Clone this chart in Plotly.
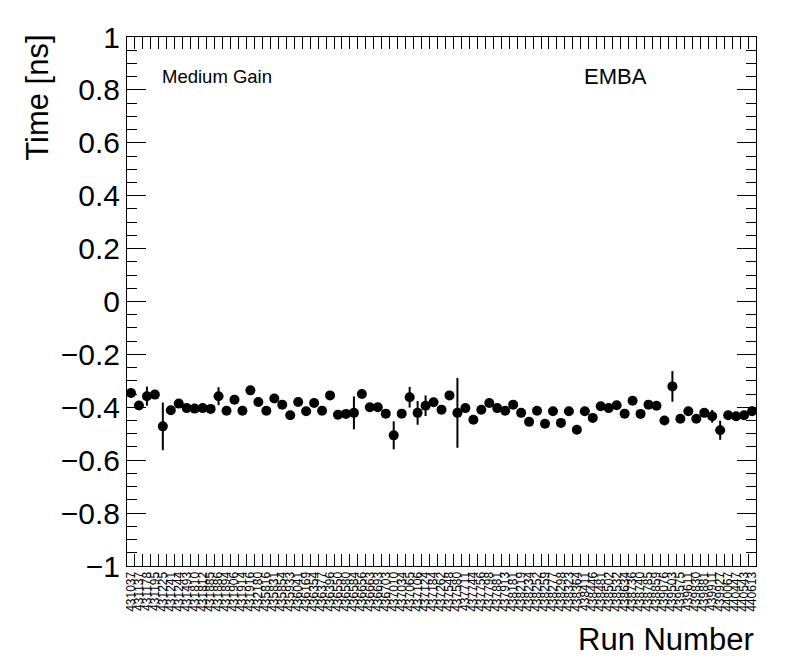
import plotly.graph_objects as go

runs = ["431037","431137","431178","431195","431225","431241","431244","431493","431810","431812",
        "431885","431886","431894","431906","431914","431916","432180","435816","435831","435854",
        "435933","436041","436169","436354","436377","436396","436550","436580","436584","436656",
        "436663","436693","436703","437010","437034","437065","437106","437124","437184","437262",
        "437548","437580","437711","437744","437756","437798","437881","437913","438181","438219",
        "438234","438252","438259","438277","438298","438323","438364","438411","438446","438481",
        "438502","438532","438634","438736","438740","438785","438859","439076","439503","439575",
        "439611","439830","439881","439911","439927","440067","440447","440543","440613"]

time_ns = [-0.346,-0.393,-0.358,-0.352,-0.472,-0.411,-0.386,-0.403,-0.405,-0.403,
           -0.406,-0.358,-0.413,-0.371,-0.413,-0.336,-0.380,-0.413,-0.367,-0.390,
           -0.430,-0.380,-0.415,-0.384,-0.413,-0.355,-0.428,-0.425,-0.421,-0.350,
           -0.400,-0.400,-0.424,-0.506,-0.424,-0.362,-0.421,-0.394,-0.381,-0.409,
           -0.355,-0.421,-0.403,-0.447,-0.409,-0.384,-0.403,-0.413,-0.390,-0.421,
           -0.455,-0.413,-0.462,-0.415,-0.459,-0.415,-0.485,-0.415,-0.440,-0.396,
           -0.403,-0.392,-0.424,-0.375,-0.425,-0.390,-0.394,-0.450,-0.321,-0.443,
           -0.415,-0.443,-0.421,-0.434,-0.487,-0.430,-0.434,-0.430,-0.415]

time_err = [0.012,0.012,0.036,0.012,0.090,0.012,0.012,0.010,0.010,0.010,
            0.010,0.034,0.010,0.012,0.010,0.012,0.012,0.010,0.012,0.012,
            0.012,0.010,0.012,0.012,0.012,0.012,0.012,0.014,0.062,0.012,
            0.012,0.012,0.015,0.053,0.015,0.039,0.045,0.039,0.012,0.012,
            0.012,0.132,0.012,0.012,0.012,0.012,0.012,0.012,0.012,0.012,
            0.012,0.012,0.012,0.012,0.012,0.012,0.014,0.012,0.012,0.012,
            0.012,0.012,0.012,0.012,0.012,0.012,0.012,0.012,0.058,0.012,
            0.012,0.012,0.012,0.024,0.036,0.012,0.012,0.012,0.018]

FONT = "Arial, Liberation Sans, Helvetica, sans-serif"

# page body has an 8px default margin; plot area targets x 127..756, y 33..566 in the window
fig = go.Figure()
fig.add_trace(go.Scatter(
    x=runs, y=time_ns, mode="markers",
    marker=dict(symbol="circle", size=10, color="black"),
    error_y=dict(type="data", array=time_err, visible=True, color="black", thickness=2, width=0),
    showlegend=False,
))

fig.update_layout(
    width=780, height=656,
    margin=dict(l=119, r=32, t=25, b=98),
    paper_bgcolor="white", plot_bgcolor="white",
    font=dict(family=FONT, color="black"),
    xaxis=dict(
        type="category", categoryorder="array", categoryarray=runs,
        range=[-0.5, len(runs) - 0.5],
        tickmode="linear", dtick=1, tick0=0,
        tickson="boundaries", ticks="inside", ticklen=12, tickwidth=1, tickcolor="black",
        showline=True, linecolor="black", linewidth=1, mirror="ticks",
        showgrid=False, zeroline=False,
        tickangle=-90, tickfont=dict(size=12, family=FONT, color="black"),
    ),
    yaxis=dict(
        range=[-1, 1], tickmode="linear", tick0=-1, dtick=0.2,
        ticks="inside", ticklen=19, tickwidth=1, tickcolor="black",
        minor=dict(dtick=0.05, ticks="inside", ticklen=10, tickcolor="black", tickwidth=1, showgrid=False),
        showline=True, linecolor="black", linewidth=1, mirror="ticks",
        showgrid=False, zeroline=False,
        tickfont=dict(size=30, family=FONT),
    ),
    annotations=[
        dict(text="Time [ns]", xref="paper", yref="paper", x=-0.1415, y=1.008,
             xanchor="center", yanchor="top", textangle=-90, showarrow=False,
             font=dict(size=31, family=FONT)),
        dict(text="Run Number", xref="paper", yref="paper", x=1.0, y=-0.139,
             xanchor="right", yanchor="middle", showarrow=False,
             font=dict(size=31, family=FONT)),
        dict(text="Medium Gain", xref="paper", yref="paper", x=(160 - 127) / 629, y=(566 - 73) / 533,
             xanchor="left", yanchor="middle", showarrow=False,
             font=dict(size=18.5, family=FONT)),
        dict(text="EMBA", xref="paper", yref="paper", x=(582 - 127) / 629, y=(566 - 73) / 533,
             xanchor="left", yanchor="middle", showarrow=False,
             font=dict(size=22, family=FONT)),
    ],
)

fig.write_html("out.html")
